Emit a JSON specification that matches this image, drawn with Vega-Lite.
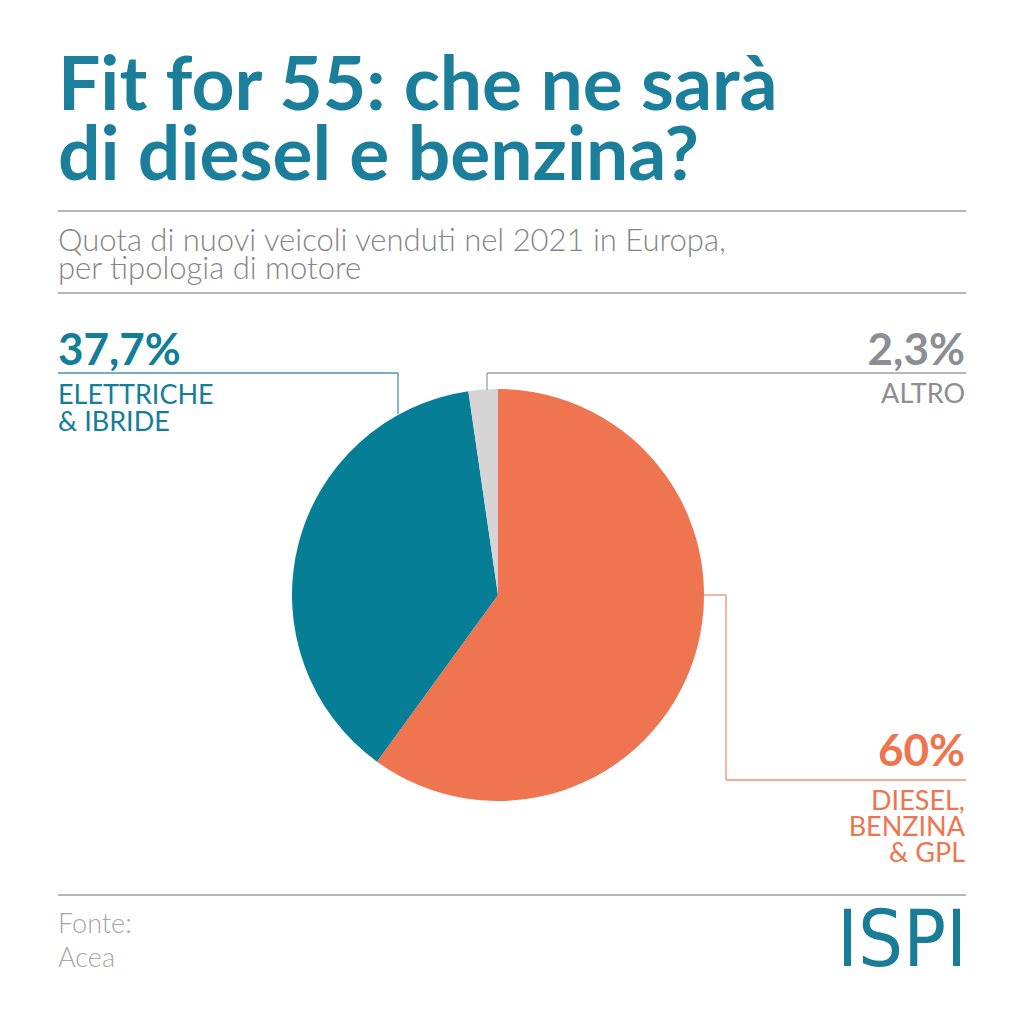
{
  "$schema": "https://vega.github.io/schema/vega-lite/v6.json",
  "width": 1024,
  "height": 1024,
  "autosize": {"type": "fit", "contains": "padding"},
  "padding": 0,
  "background": "white",
  "config": {
    "view": {"stroke": null},
    "locale": {"number": {"decimal": ",", "thousands": ".", "grouping": [3], "currency": ["", " €"]}}
  },
  "data": {"values": [
    {"category": "Diesel, benzina & GPL", "share": 0.60, "ord": 1},
    {"category": "Elettriche & ibride", "share": 0.377, "ord": 2},
    {"category": "Altro", "share": 0.023, "ord": 3}
  ]},
  "layer": [
    {
      "mark": {"type": "arc", "x": 498, "y": 595, "outerRadius": 206},
      "encoding": {
        "theta": {"field": "share", "type": "quantitative", "stack": true},
        "color": {"field": "category", "type": "nominal", "legend": null,
          "scale": {"domain": ["Diesel, benzina & GPL", "Elettriche & ibride", "Altro"], "range": ["#ee754f", "#067e96", "#d6d4d5"]}},
        "order": {"field": "ord", "type": "quantitative"}
      }
    },
    {
      "data": {"values": [{}]},
      "layer": [
        {"mark": {"type": "text", "x": 58, "y": 110, "align": "left", "baseline": "alphabetic", "font": "Lato", "fontWeight": 700, "fontSize": 75, "color": "#1b7e9a", "text": "Fit for 55: che ne sarà"}, "encoding": {}},
        {"mark": {"type": "text", "x": 58, "y": 180, "align": "left", "baseline": "alphabetic", "font": "Lato", "fontWeight": 700, "fontSize": 75, "color": "#1b7e9a", "text": "di diesel e benzina?"}, "encoding": {}},
        {"mark": {"type": "rule", "color": "#b8b8b8", "strokeWidth": 2}, "encoding": {"x": {"value": 58}, "x2": {"value": 966}, "y": {"value": 211}, "y2": {"value": 211}}},
        {"mark": {"type": "text", "x": 58, "y": 251, "align": "left", "baseline": "alphabetic", "font": "Lato", "fontWeight": 300, "fontSize": 31, "color": "#858585", "text": "Quota di nuovi veicoli venduti nel 2021 in Europa,"}, "encoding": {}},
        {"mark": {"type": "text", "x": 58, "y": 279, "align": "left", "baseline": "alphabetic", "font": "Lato", "fontWeight": 300, "fontSize": 31, "color": "#858585", "text": "per tipologia di motore"}, "encoding": {}},
        {"mark": {"type": "rule", "color": "#b8b8b8", "strokeWidth": 2}, "encoding": {"x": {"value": 58}, "x2": {"value": 966}, "y": {"value": 293}, "y2": {"value": 293}}},
        {"mark": {"type": "rule", "color": "#b8b8b8", "strokeWidth": 2}, "encoding": {"x": {"value": 58}, "x2": {"value": 966}, "y": {"value": 895}, "y2": {"value": 895}}},
        {"mark": {"type": "rule", "color": "#4a94a9", "strokeWidth": 1.3}, "encoding": {"x": {"value": 58}, "x2": {"value": 398}, "y": {"value": 373}, "y2": {"value": 373}}},
        {"mark": {"type": "rule", "color": "#4a94a9", "strokeWidth": 1.3}, "encoding": {"x": {"value": 398}, "x2": {"value": 398}, "y": {"value": 373}, "y2": {"value": 414}}},
        {"mark": {"type": "rule", "color": "#a0a0a4", "strokeWidth": 1.3}, "encoding": {"x": {"value": 487}, "x2": {"value": 966}, "y": {"value": 373}, "y2": {"value": 373}}},
        {"mark": {"type": "rule", "color": "#a0a0a4", "strokeWidth": 1.3}, "encoding": {"x": {"value": 487}, "x2": {"value": 487}, "y": {"value": 373}, "y2": {"value": 390}}},
        {"mark": {"type": "rule", "color": "#f0906f", "strokeWidth": 1.3}, "encoding": {"x": {"value": 704}, "x2": {"value": 726}, "y": {"value": 595}, "y2": {"value": 595}}},
        {"mark": {"type": "rule", "color": "#f0906f", "strokeWidth": 1.3}, "encoding": {"x": {"value": 726}, "x2": {"value": 726}, "y": {"value": 595}, "y2": {"value": 780}}},
        {"mark": {"type": "rule", "color": "#f0906f", "strokeWidth": 1.3}, "encoding": {"x": {"value": 726}, "x2": {"value": 966}, "y": {"value": 780}, "y2": {"value": 780}}},
        {"mark": {"type": "text", "x": 58, "y": 404, "align": "left", "baseline": "alphabetic", "font": "Lato", "fontWeight": 400, "fontSize": 27, "color": "#137e98", "text": "ELETTRICHE"}, "encoding": {}},
        {"mark": {"type": "text", "x": 58, "y": 431, "align": "left", "baseline": "alphabetic", "font": "Lato", "fontWeight": 400, "fontSize": 27, "color": "#137e98", "text": "& IBRIDE"}, "encoding": {}},
        {"mark": {"type": "text", "x": 965, "y": 403, "align": "right", "baseline": "alphabetic", "font": "Lato", "fontWeight": 400, "fontSize": 27, "color": "#8d8e93", "text": "ALTRO"}, "encoding": {}},
        {"mark": {"type": "text", "x": 965, "y": 810, "align": "right", "baseline": "alphabetic", "font": "Lato", "fontWeight": 400, "fontSize": 27, "color": "#ee754f", "text": "DIESEL,"}, "encoding": {}},
        {"mark": {"type": "text", "x": 965, "y": 836, "align": "right", "baseline": "alphabetic", "font": "Lato", "fontWeight": 400, "fontSize": 27, "color": "#ee754f", "text": "BENZINA"}, "encoding": {}},
        {"mark": {"type": "text", "x": 965, "y": 862, "align": "right", "baseline": "alphabetic", "font": "Lato", "fontWeight": 400, "fontSize": 27, "color": "#ee754f", "text": "& GPL"}, "encoding": {}},
        {"mark": {"type": "text", "x": 58, "y": 933, "align": "left", "baseline": "alphabetic", "font": "Lato", "fontWeight": 300, "fontSize": 27, "color": "#a6a6a6", "text": "Fonte:"}, "encoding": {}},
        {"mark": {"type": "text", "x": 58, "y": 967, "align": "left", "baseline": "alphabetic", "font": "Lato", "fontWeight": 300, "fontSize": 27, "color": "#a6a6a6", "text": "Acea"}, "encoding": {}},
        {"mark": {"type": "text", "x": 967, "y": 966, "align": "right", "baseline": "alphabetic", "font": "DejaVu Sans Condensed", "fontWeight": 400, "fontSize": 79, "color": "#1a7d98", "text": "ISPI"}, "encoding": {}}
      ]
    },
    {
      "transform": [{"filter": "datum.ord == 2"}],
      "mark": {"type": "text", "x": 58, "y": 365, "align": "left", "baseline": "alphabetic", "font": "Lato", "fontWeight": 700, "fontSize": 44, "color": "#137e98"},
      "encoding": {"text": {"field": "share", "type": "quantitative", "format": ".1~%"}}
    },
    {
      "transform": [{"filter": "datum.ord == 3"}],
      "mark": {"type": "text", "x": 965, "y": 365, "align": "right", "baseline": "alphabetic", "font": "Lato", "fontWeight": 700, "fontSize": 44, "color": "#8d8e93"},
      "encoding": {"text": {"field": "share", "type": "quantitative", "format": ".1~%"}}
    },
    {
      "transform": [{"filter": "datum.ord == 1"}],
      "mark": {"type": "text", "x": 965, "y": 766, "align": "right", "baseline": "alphabetic", "font": "Lato", "fontWeight": 700, "fontSize": 44, "color": "#ee754f"},
      "encoding": {"text": {"field": "share", "type": "quantitative", "format": ".1~%"}}
    }
  ]
}
